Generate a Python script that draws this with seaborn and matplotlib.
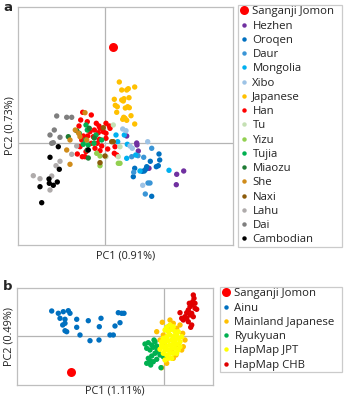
import matplotlib
matplotlib.use("Agg")
import matplotlib.pyplot as plt
from matplotlib.lines import Line2D
import seaborn as sns
import pandas as pd

sns.set_theme(style="white")
plt.rcParams["font.family"] = ["Open Sans", "DejaVu Sans"]

# ---------------- Panel a data (PC1, PC2 in units of 1e-3) ----------------
JOMON_A = [(8, 96)]
HEZHEN = [(21.7, 7), (31.7, 0), (32, -2), (33.3, -8), (44, -25.3), (71.7, -31.3), (78.7, -28), (71.3, -41.7)]
OROQEN = [(54, -11), (45.3, -18.3), (54.7, -17), (51.3, -23.7), (53.3, -22.7), (41.7, -23.7), (40.7, -26.3),
          (39.3, -28), (37.3, -28.3), (28.3, -33.7), (46.7, -53.3), (29.7, -25.3)]
DAUR = [(46.7, -5.3), (38.7, -14.3), (43, -40), (45, -40), (40.3, -51), (28.7, -29.3), (33, -12.7), (26.7, -13.7)]
MONGOLIA = [(19.3, 8), (12.7, 1.3), (22.3, -1.3), (30.7, -12), (64, -27.3), (35, -28), (21.7, -15.3), (11, 8)]
XIBO = [(17.7, 14), (21, 12.3), (42.7, 1.3), (27.3, -5.3), (37.7, -42.3), (25, -3)]
JAPANESE = [(14.3, 61), (16.7, 53), (21.7, 53), (23.3, 54.3), (29.7, 56), (9.3, 43.7), (16.7, 43), (18.3, 42),
            (19, 44.3), (24, 45.3), (10.3, 37.7), (12.3, 36.3), (22.7, 36.3), (24.3, 35.3), (20.3, 35),
            (11.7, 30.7), (18.7, 25.7), (20, 24.7), (17.7, 23.7), (26, 27.3), (29.7, 19), (21.7, 22.7)]
HAN = [(-22.3, 30.7), (-13.7, 28), (-24.3, 23), (-26, 17), (-17.7, 21.3), (-8.7, 19.7), (-6, 17), (-10.7, 13),
       (-5, 14.7), (1, 19.7), (4.3, 17), (-1.7, 11.3), (-6.7, 10.3), (-15, 11.3), (-21.7, 7), (-23.3, 3),
       (-17.3, 7), (-13.7, -0.3), (-7.7, -0.3), (-5.7, 3.7), (-3.3, -3), (2.7, -6), (1, 4.7), (10, -3.7),
       (9.3, -10.3), (11.7, -12), (-20, -13.7), (-22.7, -13.7), (-19, -8.7), (-27.7, -11), (5, 14.7),
       (1, 9.7), (-11.7, 6.3), (-5, -7.7), (-10, -5.3), (-25, -3.7)]
TU = [(8.3, 18), (15, -3.7), (1, -13.7), (-5, -20), (13.3, -13.7)]
YIZU = [(-8.3, -10.3), (-5, -13), (13.3, -20.3), (15, -20.3), (-5, -22.7)]
TUJIA = [(-19, 18), (-17.7, 13), (-19.3, 3), (-16.7, -2), (-21.7, -1.3), (-9, 8), (-11, -0.3), (-25.7, 9.7), (-3.3, 3)]
MIAOZU = [(-36.7, 6.3), (-28.3, 12.3), (-15.7, 14.7), (-10.7, 5), (-16.7, -15), (-17.7, -7)]
SHE = [(-20, 30.3), (-29.7, 13), (-26.3, 9.7), (-35, 3), (-38.3, -7), (-35, -21.3), (-18.3, 3), (-25, 6.3)]
NAXI = [(-1.7, 15.3), (6.7, 1.3), (8.3, 1.3), (0, -13), (-5, -19.7)]
LAHU = [(-71.7, -32.7), (-65, -35.7), (-53.3, -33), (-49, -22.7), (-45, -18.3), (-55, -47), (-33.3, -11.3), (-28.3, -3)]
DAI = [(-48.3, 27), (-38.3, 25.7), (-50.7, 13), (-55, 8), (-51.7, 0.3), (-53.3, -0.3), (-45, 5.7), (-33.3, 25.7)]
CAMBODIAN = [(-46.7, -3.7), (-55, -14.3), (-45.7, -26.3), (-47.7, -39), (-55.7, -40.3), (-51.7, -42.3),
             (-56, -36), (-65, -43.7), (-63.3, -59.7), (-16.7, -7)]

GROUPS_A = ["Sanganji Jomon", "Hezhen", "Oroqen", "Daur", "Mongolia", "Xibo", "Japanese", "Han", "Tu",
            "Yizu", "Tujia", "Miaozu", "She", "Naxi", "Lahu", "Dai", "Cambodian"]
POINTS_A = [JOMON_A, HEZHEN, OROQEN, DAUR, MONGOLIA, XIBO, JAPANESE, HAN, TU, YIZU, TUJIA, MIAOZU, SHE,
            NAXI, LAHU, DAI, CAMBODIAN]
COLORS_A = ["#FF0000", "#7030A0", "#0070C0", "#3A95D6", "#00B0F0", "#9DC3E6", "#FFC000", "#FF0000", "#C5E0B4",
            "#92D050", "#00B050", "#1E7B34", "#D08C1A", "#8C5B0B", "#AFABAB", "#7F7F7F", "#000000"]

# ---------------- Panel b data ----------------
JOMON_B = [(-93, -35.7)]
AINU = [(-112.3, 25), (-105.7, 22.7), (-100.7, 24.3), (-95.7, 25.3), (-94, 22.7), (-104, 17.7), (-99, 16.7),
        (-99, 12.7), (-101.3, 11), (-99, 5.3), (-97.3, 4.3), (-87.3, 16.7), (-87.3, 8.7), (-84, 1),
        (-75.7, 15.3), (-74, -4.7), (-65, -4), (-64.7, 9.3), (-63, 17.7), (-54, 1), (-50.7, 1), (-49, 10),
        (-44, 13.3), (-45.7, 23.3), (-42.3, 22.7), (-40, 22.7)]
MAINLAND_JP = [(-7.3, 4.3), (-1.7, 13.7), (6, 16), (9.3, 12.7), (16, 11), (18.7, 2.7), (21, -4), (17.7, -14),
               (9.3, -22.3), (2.7, -27.3), (-2.3, -31.7), (-5.7, -14), (-0.7, 1), (4.3, 9.3), (12.7, 7.7),
               (14.3, -9), (19.3, -10.7), (1, -9), (-4, -4), (7.7, -15.7), (12, -19)]
RYUKYUAN = [(-19, -8), (-15.7, -6.7), (-12.3, -9), (-9, -5.7), (-17.3, -12.3), (-14, -14), (-10.7, -11.3),
            (-7.3, -10), (-5.7, -15.7), (-9, -17.3), (-12.3, -20), (-15.7, -22.3), (-14, -24.7), (-10.7, -25.7),
            (-7.3, -23.3), (-17.3, -27.3), (-13.3, -29), (-3, -31.7), (-4, -19), (-0.7, -20.7), (-6.7, -14), (-10, -4)]
HAPMAP_JPT = [(1, 6), (4.3, 4.3), (7.7, 6.7), (11, 4.3), (12.7, 1), (9.3, -0.7), (6, 1), (2.7, -0.7), (-0.7, -2.3),
              (-2.3, -5.7), (1, -5.7), (4.3, -4.7), (7.7, -4), (11, -4), (14.3, -2.3), (16, -5.7), (12.7, -8),
              (9.3, -8), (6, -9), (2.7, -10), (-0.7, -10.7), (1, -14), (4.3, -14), (7.7, -12.3), (11, -12.3),
              (14.3, -14), (6, -17.3), (2.7, -19), (9.3, -17.3), (-0.7, -17.3), (4.3, -22.3), (1, -24),
              (7.7, -22.3), (12.7, -17.3), (16, -10.7), (17.7, -0.7), (14.3, 4.3), (9.3, 9.3), (6, 11),
              (2.7, 8.7), (-2.3, -9), (-4, -13.3)]
HAPMAP_CHB = [(29.3, 41), (30, 37.7), (28.7, 34.3), (27.7, 31), (26, 29.3), (31, 27.7), (24.3, 26), (32.7, 26.7),
              (22.7, 23.3), (27.7, 22.7), (21, 19.3), (26, 21), (29.3, 19.3), (16, 23.3), (19.3, 16), (24.3, 14.3),
              (27.7, 11), (26.7, 8.7), (22.7, 17.7), (31, 32.7), (25.3, 32.7), (17.7, 17.7)]

GROUPS_B = ["Sanganji Jomon", "Ainu", "Mainland Japanese", "Ryukyuan", "HapMap JPT", "HapMap CHB"]
POINTS_B = [JOMON_B, AINU, MAINLAND_JP, RYUKYUAN, HAPMAP_JPT, HAPMAP_CHB]
COLORS_B = ["#FF0000", "#0070C0", "#FFC000", "#00B050", "#FFFF00", "#E00000"]


def frame(groups, points):
    rows = []
    for g, pts in zip(groups, points):
        for x, y in pts:
            rows.append({"group": g, "PC1": x, "PC2": y})
    return pd.DataFrame(rows)


def draw(ax, groups, points, colors, xlim, ylim, xlabel, ylabel, xpad):
    df = frame(groups, points)
    pal = dict(zip(groups, colors))
    big = df[df.group == "Sanganji Jomon"]
    small = df[df.group != "Sanganji Jomon"]
    ax.axhline(0, color="#B4B4B4", lw=0.9, zorder=0)
    ax.axvline(0, color="#B4B4B4", lw=0.9, zorder=0)
    sns.scatterplot(data=small, x="PC1", y="PC2", hue="group", palette=pal, s=15, linewidth=0,
                    legend=False, ax=ax, zorder=2)
    sns.scatterplot(data=big, x="PC1", y="PC2", hue="group", palette=pal, s=42, linewidth=0,
                    legend=False, ax=ax, zorder=3)
    ax.set_xlim(*xlim)
    ax.set_ylim(*ylim)
    ax.set_xticks([])
    ax.set_yticks([])
    ax.set_xlabel(xlabel, fontsize=7.8, labelpad=xpad, color="#222222")
    ax.set_ylabel(ylabel, fontsize=7.8, labelpad=2, color="#222222")
    for sp in ax.spines.values():
        sp.set_color("#BEBEBE")
        sp.set_linewidth(0.9)


def legend(fig, groups, colors, anchor):
    handles = []
    for g, c in zip(groups, colors):
        ms = 6.5 if g == "Sanganji Jomon" else 3.2
        handles.append(Line2D([], [], marker="o", ls="", color=c, markersize=ms, markeredgewidth=0, label=g))
    lg = fig.legend(handles=handles, loc="upper left", bbox_to_anchor=anchor, mode="expand",
                    frameon=True, fancybox=False, fontsize=8.2, labelspacing=0.285, handlelength=0.8,
                    handletextpad=0.35, borderpad=0.12, borderaxespad=0, bbox_transform=fig.transFigure)
    lg.get_frame().set_edgecolor("#BEBEBE")
    lg.get_frame().set_linewidth(0.9)
    for t in lg.get_texts():
        t.set_color("#222222")
    return lg


W, H = 344, 400
fig = plt.figure(figsize=(W / 100, H / 100), dpi=100)

ax_a = fig.add_axes([18 / W, 1 - 245 / H, 215 / W, 238 / H])
draw(ax_a, GROUPS_A, POINTS_A, COLORS_A, (-87, 128), (-102, 136), "PC1 (0.91%)", "PC2 (0.73%)", 4)
legend(fig, GROUPS_A, COLORS_A, (238 / W, 1 - 5 / H, 104 / W, 0.0))

ax_b = fig.add_axes([17 / W, 1 - 385 / H, 196 / W, 97 / H])
draw(ax_b, GROUPS_B, POINTS_B, COLORS_B, (-147, 49), (-49, 48), "PC1 (1.11%)", "PC2 (0.49%)", 0.5)
legend(fig, GROUPS_B, COLORS_B, (220 / W, 1 - 287 / H, 122 / W, 0.0))

fig.text(3 / W, 1 - 1 / H, "a", fontsize=9.5, fontweight="bold", va="top", ha="left", family="DejaVu Sans")
fig.text(3 / W, 1 - 280 / H, "b", fontsize=9.5, fontweight="bold", va="top", ha="left", family="DejaVu Sans")

fig.savefig("out.png", dpi=100)
